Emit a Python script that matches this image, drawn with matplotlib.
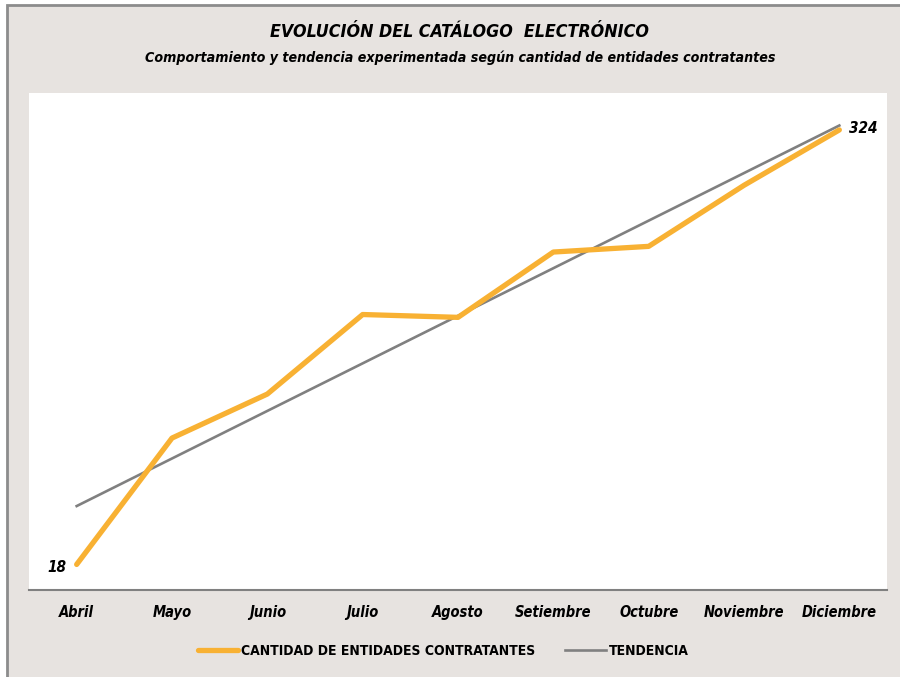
import numpy as np
import matplotlib.pyplot as plt
from matplotlib.patches import Rectangle

plt.rcParams['font.family'] = ['DejaVu Sans']
plt.rcParams['font.stretch'] = 'condensed'

MONTHS = ['Abril', 'Mayo', 'Junio', 'Julio', 'Agosto', 'Setiembre',
          'Octubre', 'Noviembre', 'Diciembre']
ENTIDADES = [18, 107, 138, 194, 192, 238, 242, 285, 324]

BG = '#e7e3e0'
ORANGE = '#f8b133'
GRAY = '#808080'

fig = plt.figure(figsize=(9, 6.77), dpi=100, facecolor='white')
# beige panel with grey frame on top/left
fig.patches.append(Rectangle((7 / 900, -0.05), 1.2, 1 - 5 / 677 + 0.05,
                             transform=fig.transFigure, facecolor=BG,
                             edgecolor='#8c8c8c', linewidth=2, zorder=-10))

ax = fig.add_axes([29 / 900, 1 - 590 / 677, 858 / 900, 497 / 677])
ax.set_facecolor('white')

x = np.arange(len(MONTHS))
y = np.array(ENTIDADES)
slope, icpt = np.polyfit(x, y, 1)

ax.plot(x, y, color=ORANGE, lw=3.8, solid_capstyle='round',
        label='CANTIDAD DE ENTIDADES CONTRATANTES', zorder=3)
ax.plot(x, slope * x + icpt, color=GRAY, lw=1.9, label='TENDENCIA', zorder=2)

ax.text(x[0] - 0.11, y[0] - 2, str(ENTIDADES[0]), ha='right', va='center',
        fontsize=11, fontweight='bold', style='italic')
ax.text(x[-1] + 0.1, y[-1] + 1, str(ENTIDADES[-1]), ha='left', va='center',
        fontsize=11, fontweight='bold', style='italic')

ax.set_xlim(-0.5, 8.5)
ax.set_ylim(0, 350)
ax.set_xticks(x)
ax.set_xticklabels(MONTHS, fontsize=10.5, fontweight='bold', style='italic')
ax.tick_params(axis='x', length=0, pad=11)
ax.set_yticks([])
for s in ['top', 'left', 'right']:
    ax.spines[s].set_visible(False)
ax.spines['bottom'].set_color(GRAY)
ax.spines['bottom'].set_linewidth(1.5)

fig.text(460 / 900, 1 - 32 / 677, 'EVOLUCIÓN DEL CATÁLOGO  ELECTRÓNICO', ha='center',
         va='center', fontsize=12.8, fontweight='bold', style='italic')
fig.text(460 / 900, 1 - 58 / 677,
         'Comportamiento y tendencia experimentada según cantidad de entidades contratantes',
         ha='center', va='center', fontsize=10.2, fontweight='bold', style='italic')

fig.legend(loc='center', bbox_to_anchor=(443 / 900, 1 - 651 / 677), ncol=2,
           frameon=False, prop={'size': 10, 'weight': 'bold'},
           handlelength=2.9, handletextpad=0.2, columnspacing=2.2)

fig.savefig('out.png', dpi=100, facecolor='white')
